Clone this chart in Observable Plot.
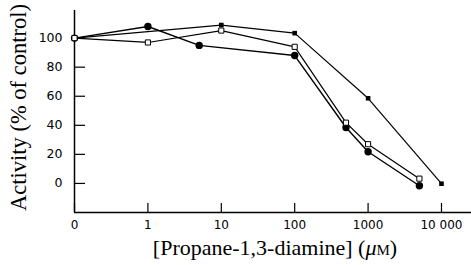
<!DOCTYPE html>
<html><head><meta charset="utf-8">
<script src="https://cdn.jsdelivr.net/npm/d3@7"></script>
<script src="https://cdn.jsdelivr.net/npm/@observablehq/plot@0.6"></script>
<style>body{margin:0;background:#fff}</style>
</head><body><div id="chart"></div>
<script>
// Data
const circleConc = [0, 1, 5, 100, 500, 1000, 5000];
const circleAct  = [100, 108, 95, 88, 38.5, 21.8, -1.6];
const openConc   = [0, 1, 10, 100, 500, 1000, 5000];
const openAct    = [100, 97, 105.2, 94, 41.8, 27, 3.3];
const filledConc = [0, 10, 100, 1000, 10000];
const filledAct  = [100, 109, 103.4, 58.6, -0.2];
const xTickConc   = [0, 1, 10, 100, 1000, 10000];
const xTickLabels = ["0", "1", "10", "100", "1000", "10 000"];
const yTicks      = [0, 20, 40, 60, 80, 100];
const yTitle = "Activity (% of control)";
const xTitle = "[Propane-1,3-diamine] (μM)";

// 0 is drawn one decade left of 1
const pos = c => c === 0 ? 0 : Math.log10(c) + 1;
const rows = (conc, act) => conc.map((c, i) => ({x: pos(c), y: act[i]}));
const circles = rows(circleConc, circleAct);
const opens = rows(openConc, openAct);
const filled = rows(filledConc, filledAct);
const xTickRows = xTickConc.map((c, i) => ({x: pos(c), label: xTickLabels[i]}));

const sans = "DejaVu Sans, Verdana, sans-serif";
const serif = "Liberation Serif, Times New Roman, serif";
const lw = 1.2;

const chart = Plot.plot({
  width: 471, height: 265,
  marginLeft: 74, marginRight: 0, marginTop: 10, marginBottom: 53,
  x: {domain: [0, 5.409], axis: null},
  y: {domain: [-20, 119], axis: null},
  style: {background: "white", color: "black", overflow: "visible"},
  marks: [
    Plot.ruleX([0], {strokeWidth: 1.5}),
    Plot.ruleY([-20], {strokeWidth: 1.5}),
    Plot.tickY(yTicks, {y: d => d, insetRight: 386, strokeWidth: 1.2}),
    Plot.tickX(xTickRows, {x: "x", insetTop: 193, strokeWidth: 1.2}),
    Plot.text(yTicks, {y: d => d, text: d => String(d), frameAnchor: "left", dx: -12, textAnchor: "end", fontSize: 12.5, fontFamily: sans}),
    Plot.text(xTickRows, {x: "x", text: "label", frameAnchor: "bottom", dy: 12.5, lineAnchor: "middle", fontSize: 12, fontFamily: sans}),
    Plot.line(filled, {x: "x", y: "y", stroke: "black", strokeWidth: lw}),
    Plot.line(opens, {x: "x", y: "y", stroke: "black", strokeWidth: lw}),
    Plot.line(circles, {x: "x", y: "y", stroke: "black", strokeWidth: 1.4}),
    Plot.dot(circles, {x: "x", y: "y", r: 3.7, fill: "black", stroke: "none"}),
    Plot.dot(filled, {x: "x", y: "y", symbol: "square", r: 2.6, fill: "black", stroke: "none"}),
    Plot.dot(opens, {x: "x", y: "y", symbol: "square", r: 2.9, fill: "white", stroke: "black", strokeWidth: 1}),
    Plot.text([yTitle], {frameAnchor: "left", textAnchor: "middle", lineAnchor: "middle", rotate: -90, dx: -56, dy: -4, fontSize: 22.5, fontFamily: serif}),
    Plot.text([xTitle], {frameAnchor: "bottom", textAnchor: "middle", dx: 2, dy: 42, fontSize: 22, fontFamily: serif})
  ]
});
document.getElementById("chart").appendChild(chart);

d3.select(chart).selectAll("text")
  .filter(function() { return this.textContent === xTitle; })
  .each(function() {
    const t = d3.select(this);
    const full = t.text();
    const i = full.indexOf("μ");
    t.text(null);
    t.append("tspan").text(full.slice(0, i));
    t.append("tspan").attr("font-style", "italic").text("μ");
    t.append("tspan").attr("font-size", 15).text(full.slice(i + 1, i + 2));
    t.append("tspan").text(full.slice(i + 2));
  });
</script>
</body></html>
